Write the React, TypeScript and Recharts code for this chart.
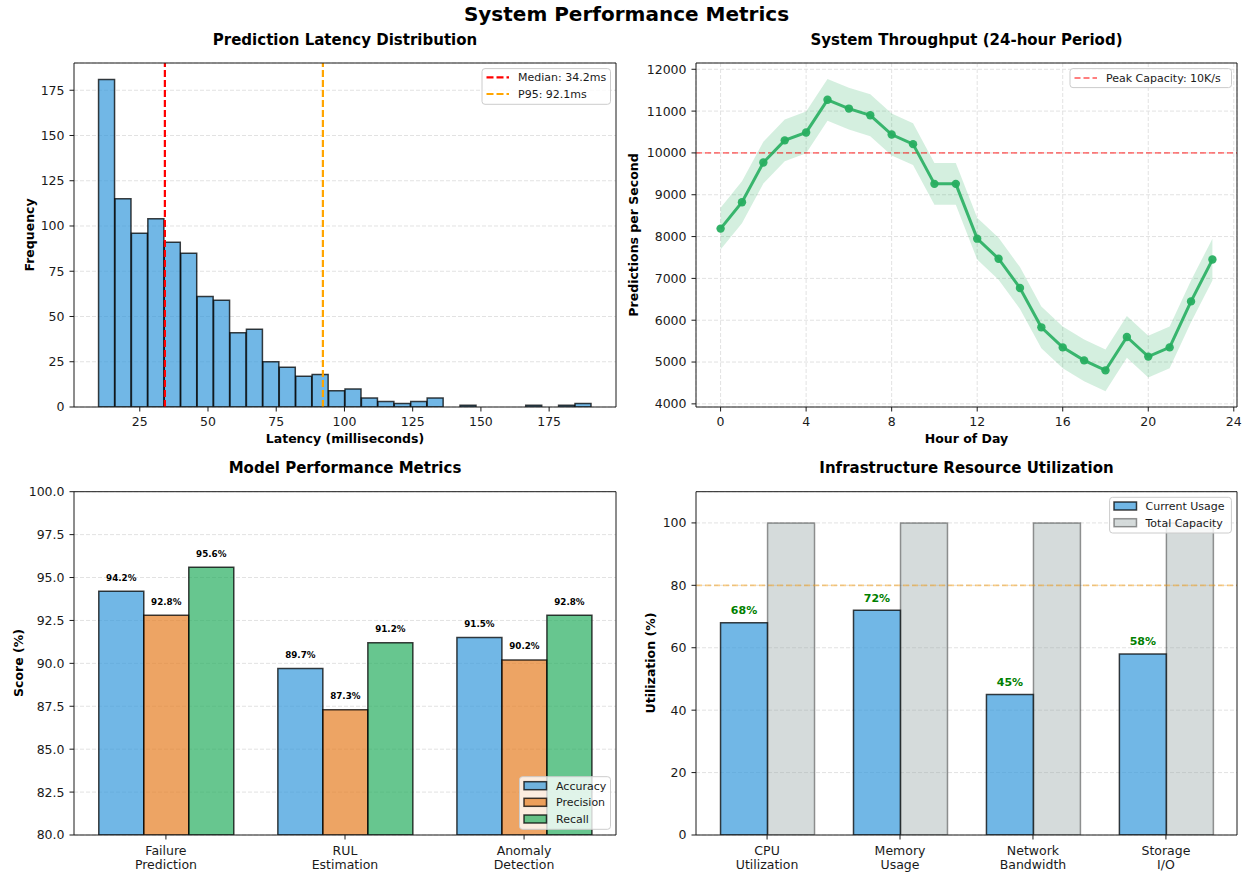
import React from 'react';
import {
  BarChart,
  Bar,
  ComposedChart,
  Line,
  Area,
  XAxis,
  YAxis,
  CartesianGrid,
  ReferenceLine,
  LabelList,
} from 'recharts';

const FONT = '"DejaVu Sans", Verdana, sans-serif';
const AXIS = '#1a1a1a';
const GRID = '#e2e2e2';
const BLUE = '#3498db';
const ORANGE = '#e67e22';
const GREEN = '#27ae60';
const GRAY = '#95a5a6';

// latency histogram
const latencyBinEdges = [
  9.9, 15.92, 21.94, 27.96, 33.98, 40.0, 46.02, 52.04, 58.06, 64.08, 70.1, 76.12, 82.14, 88.16, 94.18, 100.2,
  106.22, 112.24, 118.26, 124.28, 130.3, 136.32, 142.34, 148.36, 154.38, 160.4, 166.42, 172.44, 178.46, 184.48, 190.5,
];
const latencyCounts = [
  181, 115, 96, 104, 91, 85, 61, 59, 41, 43, 25, 22, 17, 18, 9, 10, 5, 3, 2, 3, 5, 0, 1, 0, 0, 0, 1, 0, 1, 2,
];
const latencyTicks = [25, 50, 75, 100, 125, 150, 175];
const frequencyTicks = [0, 25, 50, 75, 100, 125, 150, 175];
const latencyMedian = 34.2;
const latencyP95 = 92.1;

// throughput over the day
const hours = [0, 1, 2, 3, 4, 5, 6, 7, 8, 9, 10, 11, 12, 13, 14, 15, 16, 17, 18, 19, 20, 21, 22, 23];
const throughput = [
  8190, 8820, 9770, 10300, 10490, 11270, 11060, 10900, 10440, 10210, 9260, 9260,
  7950, 7470, 6770, 5830, 5350, 5040, 4800, 5600, 5130, 5350, 6450, 7450,
];
const throughputSpread = 500;
const hourTicks = [0, 4, 8, 12, 16, 20, 24];
const throughputTicks = [4000, 5000, 6000, 7000, 8000, 9000, 10000, 11000, 12000];
const peakCapacity = 10000;

// model metrics
const modelNames = ['Failure\nPrediction', 'RUL\nEstimation', 'Anomaly\nDetection'];
const accuracy = [94.2, 89.7, 91.5];
const precision = [92.8, 87.3, 90.2];
const recall = [95.6, 91.2, 92.8];
const scoreTicks = [80, 82.5, 85, 87.5, 90, 92.5, 95, 97.5, 100];

// infrastructure
const resources = ['CPU\nUtilization', 'Memory\nUsage', 'Network\nBandwidth', 'Storage\nI/O'];
const currentUsage = [68, 72, 45, 58];
const totalCapacity = [100, 100, 100, 100];
const utilTicks = [0, 20, 40, 60, 80, 100];
const utilThreshold = 80;

const histData = latencyCounts.map((count, i) => ({
  mid: (latencyBinEdges[i] + latencyBinEdges[i + 1]) / 2,
  count,
}));
const throughputData = hours.map((hour, i) => ({
  hour,
  value: throughput[i],
  band: [throughput[i] - throughputSpread, throughput[i] + throughputSpread],
}));
const modelData = modelNames.map((name, i) => ({
  name,
  accuracy: accuracy[i],
  precision: precision[i],
  recall: recall[i],
}));
const resourceData = resources.map((name, i) => ({
  name,
  current: currentUsage[i],
  capacity: totalCapacity[i],
}));

const tickStyle = { fill: '#1a1a1a', fontSize: 12.5, fontFamily: FONT };
const xAxisProps = {
  tickSize: 4.5,
  tickMargin: 5.5,
  tick: tickStyle,
  tickLine: { stroke: AXIS },
  axisLine: { stroke: AXIS },
};
const yAxisProps = {
  tickSize: 4.5,
  tickMargin: 5,
  tick: tickStyle,
  tickLine: { stroke: AXIS },
  axisLine: { stroke: AXIS },
};

// top and right spines, drawn as bare axes
const topSpine = (
  <XAxis
    xAxisId="top"
    orientation="top"
    type="number"
    domain={[0, 1]}
    height={1}
    tick={false}
    tickLine={false}
    axisLine={{ stroke: AXIS }}
  />
);
const rightSpine = (
  <YAxis
    yAxisId="right"
    orientation="right"
    type="number"
    domain={[0, 1]}
    width={1}
    tick={false}
    tickLine={false}
    axisLine={{ stroke: AXIS }}
  />
);

const TwoLineTick = ({ x, y, payload }: any) => {
  const lines = String(payload.value).split('\n');
  return (
    <text x={x} y={y} textAnchor="middle" fill="#1a1a1a" fontSize={12.5} fontFamily={FONT}>
      {lines.map((line, i) => (
        <tspan key={line} x={x} dy={i === 0 ? 9.5 : 14}>
          {line}
        </tspan>
      ))}
    </text>
  );
};

const ScoreLabel = ({ x, y, width, value }: any) => (
  <text
    x={x + width / 2}
    y={y - 10.5}
    textAnchor="middle"
    fontSize={8.75}
    fontWeight="bold"
    fontFamily={FONT}
    fill="#000"
  >
    {`${Number(value).toFixed(1)}%`}
  </text>
);

const UsageLabel = ({ x, y, width, value }: any) => (
  <text
    x={x + width / 2}
    y={y - 8.5}
    textAnchor="middle"
    fontSize={11}
    fontWeight="bold"
    fontFamily={FONT}
    fill="#008000"
  >
    {`${value}%`}
  </text>
);

const LatencyChart = () => (
  <BarChart
    width={626}
    height={410}
    data={histData}
    margin={{ top: 12, right: 9, bottom: 8, left: 0 }}
    barCategoryGap={0}
    barGap={0}
  >
    <CartesianGrid vertical={false} stroke={GRID} strokeDasharray="4 2" />
    <Bar
      dataKey="count"
      fill={BLUE}
      fillOpacity={0.7}
      stroke="#000"
      strokeOpacity={0.75}
      strokeWidth={1.5}
      isAnimationActive={false}
    />
    <ReferenceLine x={latencyMedian} stroke="#ff0000" strokeWidth={2.2} strokeDasharray="7 3" />
    <ReferenceLine x={latencyP95} stroke="#ffa500" strokeWidth={2.2} strokeDasharray="7 3" />
    <XAxis
      dataKey="mid"
      type="number"
      domain={[0.9, 199.5]}
      allowDataOverflow
      ticks={latencyTicks}
      height={45}
      {...xAxisProps}
    />
    <YAxis domain={[0, 190.05]} ticks={frequencyTicks} allowDataOverflow width={74} {...yAxisProps} />
    {topSpine}
    {rightSpine}
  </BarChart>
);

const ThroughputChart = () => (
  <ComposedChart width={627} height={410} data={throughputData} margin={{ top: 12, right: 15, bottom: 8, left: 0 }}>
    <CartesianGrid stroke={GRID} strokeDasharray="4 2" />
    <Area
      dataKey="band"
      type="linear"
      fill={GREEN}
      fillOpacity={0.2}
      stroke="none"
      isAnimationActive={false}
      dot={false}
      activeDot={false}
    />
    <ReferenceLine y={peakCapacity} stroke="#ff0000" strokeOpacity={0.5} strokeWidth={1.8} strokeDasharray="6 3" />
    <Line
      dataKey="value"
      type="linear"
      stroke={GREEN}
      strokeOpacity={0.9}
      strokeWidth={3}
      dot={{ r: 4.2, fill: GREEN, stroke: GREEN, strokeWidth: 0, fillOpacity: 0.95 }}
      activeDot={false}
      isAnimationActive={false}
    />
    <XAxis
      dataKey="hour"
      type="number"
      domain={[-1.15, 24.15]}
      allowDataOverflow
      ticks={hourTicks}
      height={45}
      {...xAxisProps}
    />
    <YAxis domain={[3925, 12150]} ticks={throughputTicks} allowDataOverflow width={70} {...yAxisProps} />
    {topSpine}
    {rightSpine}
  </ComposedChart>
);

const barStroke = { stroke: '#000', strokeOpacity: 0.75, strokeWidth: 1.5 };

const ModelChart = () => (
  <BarChart
    width={626}
    height={397}
    data={modelData}
    margin={{ top: 12.7, right: 9, bottom: 0, left: 0 }}
    barCategoryGap="12.5%"
    barGap={0}
  >
    <CartesianGrid vertical={false} stroke={GRID} strokeDasharray="4 2" />
    <Bar dataKey="accuracy" fill={BLUE} fillOpacity={0.7} {...barStroke} isAnimationActive={false}>
      <LabelList dataKey="accuracy" content={ScoreLabel} />
    </Bar>
    <Bar dataKey="precision" fill={ORANGE} fillOpacity={0.7} {...barStroke} isAnimationActive={false}>
      <LabelList dataKey="precision" content={ScoreLabel} />
    </Bar>
    <Bar dataKey="recall" fill={GREEN} fillOpacity={0.7} {...barStroke} isAnimationActive={false}>
      <LabelList dataKey="recall" content={ScoreLabel} />
    </Bar>
    <XAxis dataKey="name" height={40} padding={{ left: 2.4, right: 2.4 }} interval={0} {...xAxisProps} tick={<TwoLineTick />} />
    <YAxis
      domain={[80, 100]}
      ticks={scoreTicks}
      allowDataOverflow
      width={74}
      tickFormatter={(v: number) => v.toFixed(1)}
      {...yAxisProps}
    />
    {topSpine}
    {rightSpine}
  </BarChart>
);

const ResourceChart = () => (
  <BarChart
    width={627}
    height={397}
    data={resourceData}
    margin={{ top: 12.7, right: 15, bottom: 0, left: 0 }}
    barCategoryGap="15%"
    barGap={0}
  >
    <CartesianGrid vertical={false} stroke={GRID} strokeDasharray="4 2" />
    <Bar dataKey="current" fill={BLUE} fillOpacity={0.7} {...barStroke} isAnimationActive={false}>
      <LabelList dataKey="current" content={UsageLabel} />
    </Bar>
    <Bar
      dataKey="capacity"
      fill={GRAY}
      fillOpacity={0.4}
      stroke="#000"
      strokeOpacity={0.4}
      strokeWidth={1.5}
      isAnimationActive={false}
    />
    <ReferenceLine y={utilThreshold} stroke="#f39c12" strokeOpacity={0.5} strokeWidth={1.8} strokeDasharray="6 3" />
    <XAxis dataKey="name" height={40} padding={{ left: 4.6, right: 4.6 }} interval={0} {...xAxisProps} tick={<TwoLineTick />} />
    <YAxis domain={[0, 110]} ticks={utilTicks} allowDataOverflow width={70} {...yAxisProps} />
    {topSpine}
    {rightSpine}
  </BarChart>
);

const LegendBox = ({ x, y, w, h }: { x: number; y: number; w: number; h: number }) => (
  <rect x={x} y={y} width={w} height={h} rx={3} fill="#fff" fillOpacity={0.8} stroke="#cccccc" strokeWidth={1} />
);

const LegendText = ({ x, y, children }: { x: number; y: number; children: React.ReactNode }) => (
  <text x={x} y={y + 4} fontSize={11} fontFamily={FONT} fill="#1a1a1a">
    {children}
  </text>
);

const Overlay = () => (
  <svg width={1253} height={875} style={{ position: 'absolute', left: 0, top: 0, pointerEvents: 'none' }}>
    <g fontFamily={FONT} fill="#000" textAnchor="middle" fontWeight="bold">
      <text x={626.5} y={21} fontSize={20}>System Performance Metrics</text>
      <text x={345} y={45} fontSize={15}>Prediction Latency Distribution</text>
      <text x={966.5} y={45} fontSize={15}>System Throughput (24-hour Period)</text>
      <text x={345} y={473.3} fontSize={15}>Model Performance Metrics</text>
      <text x={966.5} y={473.3} fontSize={15}>Infrastructure Resource Utilization</text>
      <g fontSize={12.5}>
        <text x={345} y={443}>Latency (milliseconds)</text>
        <text x={966.5} y={443}>Hour of Day</text>
        <text transform="translate(34,235) rotate(-90)">Frequency</text>
        <text transform="translate(638,235) rotate(-90)">Predictions per Second</text>
        <text transform="translate(23,663) rotate(-90)">Score (%)</text>
        <text transform="translate(655,663) rotate(-90)">Utilization (%)</text>
      </g>
    </g>

    {/* latency legend */}
    <LegendBox x={482} y={68.6} w={128.5} h={35.7} />
    <line x1={486.5} x2={509} y1={77.3} y2={77.3} stroke="#ff0000" strokeWidth={2.2} strokeDasharray="7 3" />
    <LegendText x={518} y={77.3}>Median: 34.2ms</LegendText>
    <line x1={486.5} x2={509} y1={94} y2={94} stroke="#ffa500" strokeWidth={2.2} strokeDasharray="7 3" />
    <LegendText x={518} y={94}>P95: 92.1ms</LegendText>

    {/* throughput legend */}
    <LegendBox x={1070} y={68.6} w={161.5} h={19} />
    <line x1={1074.5} x2={1097} y1={78} y2={78} stroke="#ff0000" strokeOpacity={0.5} strokeWidth={1.8} strokeDasharray="6 3" />
    <LegendText x={1106} y={78}>Peak Capacity: 10K/s</LegendText>

    {/* model legend */}
    <LegendBox x={519.5} y={776.7} w={91} h={52.6} />
    <rect x={524} y={781.7} width={22.5} height={8} fill={BLUE} fillOpacity={0.7} stroke="#000" strokeOpacity={0.75} strokeWidth={1.5} />
    <LegendText x={556} y={785.7}>Accuracy</LegendText>
    <rect x={524} y={798.3} width={22.5} height={8} fill={ORANGE} fillOpacity={0.7} stroke="#000" strokeOpacity={0.75} strokeWidth={1.5} />
    <LegendText x={556} y={802.3}>Precision</LegendText>
    <rect x={524} y={815} width={22.5} height={8} fill={GREEN} fillOpacity={0.7} stroke="#000" strokeOpacity={0.75} strokeWidth={1.5} />
    <LegendText x={556} y={819}>Recall</LegendText>

    {/* resource legend */}
    <LegendBox x={1109.6} y={497.3} w={121.8} h={35.7} />
    <rect x={1114} y={502} width={22.5} height={8} fill={BLUE} fillOpacity={0.7} stroke="#000" strokeOpacity={0.75} strokeWidth={1.5} />
    <LegendText x={1145.5} y={506}>Current Usage</LegendText>
    <rect x={1114} y={518.7} width={22.5} height={8} fill={GRAY} fillOpacity={0.4} stroke="#000" strokeOpacity={0.4} strokeWidth={1.5} />
    <LegendText x={1145.5} y={522.7}>Total Capacity</LegendText>
  </svg>
);

export default function App() {
  return (
    <div style={{ position: 'absolute', left: 0, top: 0, width: 1253, height: 875, background: '#fff', fontFamily: FONT }}>
      <div style={{ position: 'absolute', left: 0, top: 50 }}>
        <LatencyChart />
      </div>
      <div style={{ position: 'absolute', left: 626, top: 50 }}>
        <ThroughputChart />
      </div>
      <div style={{ position: 'absolute', left: 0, top: 478 }}>
        <ModelChart />
      </div>
      <div style={{ position: 'absolute', left: 626, top: 478 }}>
        <ResourceChart />
      </div>
      <Overlay />
    </div>
  );
}
